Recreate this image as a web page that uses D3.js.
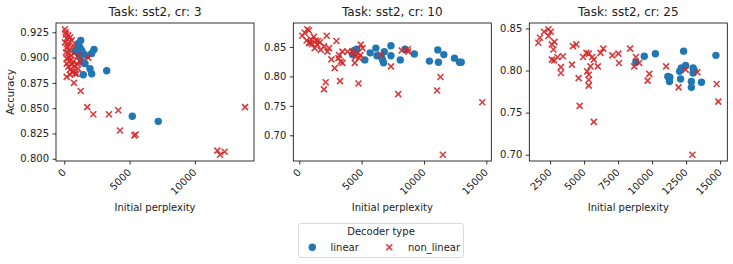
<!DOCTYPE html>
<html>
<head>
<meta charset="utf-8">
<script src="https://cdn.jsdelivr.net/npm/d3@7"></script>
<style>
  body { margin: 0; background: #fff; }
  text { font-family: "DejaVu Sans", sans-serif; fill: #222; }
</style>
</head>
<body>
<div id="chart"></div>
<script>
// data, [perplexity, accuracy]
var titles = ['Task: sst2, cr: 3', 'Task: sst2, cr: 10', 'Task: sst2, cr: 25'];

var linear_3 = [[1256,0.917],[1072,0.914],[1202,0.910],[950,0.909],[1332,0.907],[1072,0.904],[1455,0.904],
  [1202,0.901],[1715,0.902],[2098,0.904],[2274,0.908],[1968,0.889],[2098,0.884],[1455,0.883],[3247,0.887],
  [1332,0.896],[1585,0.894],[820,0.906],[5207,0.842],[7198,0.837]];
var nonlinear_3 = [[54,0.928],[130,0.923],[306,0.922],[437,0.920],[184,0.919],[54,0.915],[306,0.914],[567,0.917],
  [690,0.912],[184,0.909],[437,0.907],[306,0.904],[567,0.902],[184,0.899],[437,0.897],[690,0.896],[184,0.894],
  [306,0.891],[567,0.893],[820,0.891],[950,0.894],[1072,0.889],[437,0.888],[690,0.886],[184,0.881],[437,0.883],
  [820,0.884],[1202,0.896],[1072,0.902],[1840,0.900],[743,0.875],[1256,0.867],[1760,0.851],[2220,0.844],
  [3420,0.844],[4135,0.848],[4265,0.828],[5360,0.823],[5460,0.824],[13840,0.851],[11720,0.808],[11925,0.804],
  [12283,0.807],[100,0.925],[250,0.911],[600,0.886],[950,0.884],[350,0.900],[120,0.905]];

var linear_10 = [[4397,0.844],[4267,0.837],[5258,0.828],[5685,0.840],[6144,0.848],[6224,0.835],[6812,0.842],
  [6683,0.828],[6763,0.823],[7351,0.852],[7351,0.835],[8100,0.828],[8478,0.846],[9227,0.838],[10435,0.826],
  [11111,0.845],[11594,0.837],[11159,0.824],[12448,0.831],[12850,0.824],[12987,0.824],[6600,0.832],[4600,0.846]];
var nonlinear_10 = [[427,0.874],[644,0.880],[773,0.878],[242,0.869],[588,0.861],[910,0.863],[1176,0.867],
  [1312,0.861],[1047,0.855],[773,0.857],[1450,0.854],[1659,0.858],[1232,0.848],[1715,0.845],[2198,0.869],
  [1980,0.851],[2383,0.848],[2254,0.842],[2979,0.860],[2576,0.829],[3140,0.831],[3325,0.825],[2842,0.814],
  [3462,0.842],[3462,0.823],[3865,0.842],[4267,0.842],[4670,0.840],[4452,0.823],[4936,0.854],[5073,0.848],
  [4799,0.831],[6546,0.837],[7351,0.817],[2118,0.790],[1980,0.778],[3270,0.792],[4750,0.788],[8213,0.844],
  [8696,0.846],[8744,0.842],[11320,0.799],[11055,0.776],[7939,0.770],[11514,0.667],[14678,0.756],
  [4500,0.833],[4900,0.836],[3200,0.836],[1500,0.860],[900,0.857]];

var linear_25 = [[8806,0.810],[9423,0.817],[10239,0.820],[12315,0.823],[14690,0.818],[11157,0.793],[11276,0.787],
  [12145,0.803],[12018,0.799],[12463,0.806],[12091,0.790],[13011,0.803],[13011,0.797],[12885,0.787],
  [12885,0.780],[13627,0.786],[11300,0.792],[13100,0.800]];
var nonlinear_25 = [[1632,0.833],[1758,0.839],[2055,0.846],[2374,0.849],[2552,0.846],[2374,0.841],[2626,0.831],
  [2819,0.834],[2745,0.825],[2626,0.813],[2797,0.812],[3042,0.816],[3442,0.817],[3294,0.804],[3294,0.797],
  [4110,0.807],[4184,0.829],[4429,0.831],[4600,0.791],[4926,0.816],[5171,0.821],[5341,0.820],[5593,0.816],
  [5712,0.813],[5223,0.799],[5341,0.795],[5467,0.805],[5341,0.789],[5341,0.782],[6009,0.805],[6209,0.821],
  [6410,0.826],[7077,0.818],[7523,0.820],[7567,0.809],[8383,0.826],[4674,0.758],[5712,0.739],[12960,0.700],
  [14866,0.763],[8806,0.816],[9053,0.809],[8682,0.805],[9794,0.796],[9670,0.788],[11032,0.805],[11944,0.780],
  [12463,0.801],[13331,0.798],[14740,0.784]];

var xticks = [[0,5000,10000],[0,5000,10000,15000],[2500,5000,7500,10000,12500,15000]];
var yticks = [[0.800,0.825,0.850,0.875,0.900,0.925],[0.70,0.75,0.80,0.85],[0.70,0.75,0.80,0.85]];
var yfmt = ['.3f','.2f','.2f'];

var panels = [[linear_3, nonlinear_3],[linear_10, nonlinear_10],[linear_25, nonlinear_25]];

var width = 733, height = 264;
var left = [56, 293.3, 529.3], pw = 198, plotTop = 23, plotBottom = 161;
var blue = '#1f77b4', red = '#d62728';

var svg = d3.select('#chart').append('svg')
    .attr('width', width)
    .attr('height', height);

function padded(vals) {
  var e = d3.extent(vals), m = (e[1] - e[0]) * 0.05;
  return [e[0] - m, e[1] + m];
}

function panel(i) {
  var lin = panels[i][0], non = panels[i][1];
  var all = lin.concat(non);
  var x = d3.scaleLinear().domain(padded(all.map(d => d[0]))).range([left[i], left[i] + pw]);
  var y = d3.scaleLinear().domain(padded(all.map(d => d[1]))).range([plotBottom, plotTop]);

  var g = svg.append('g');

  // linear first, crosses on top
  g.selectAll('.lin')
    .data(lin)
    .enter().append('circle')
    .attr('cx', d => x(d[0]))
    .attr('cy', d => y(d[1]))
    .attr('r', 3.7)
    .style('fill', blue);

  g.selectAll('.non')
    .data(non)
    .enter().append('path')
    .attr('transform', d => 'translate(' + x(d[0]) + ',' + y(d[1]) + ')')
    .attr('d', 'M-3,-3L3,3M-3,3L3,-3')
    .style('stroke', red)
    .style('stroke-width', 1.6)
    .style('opacity', 0.9);

  // frame
  g.append('rect')
    .attr('x', left[i]).attr('y', plotTop)
    .attr('width', pw).attr('height', plotBottom - plotTop)
    .style('fill', 'none').style('stroke', '#000').style('stroke-width', 0.8);

  var xa = g.append('g').attr('transform', 'translate(0,' + plotBottom + ')')
    .call(d3.axisBottom(x).tickValues(xticks[i]).tickSize(3.5).tickPadding(3).tickFormat(d3.format('d')));
  xa.select('.domain').remove();
  xa.selectAll('text')
    .style('font-size', '10px')
    .attr('text-anchor', 'end')
    .attr('dy', null).attr('y', null)
    .attr('transform', 'translate(2,12) rotate(-45)');

  var ya = g.append('g').attr('transform', 'translate(' + left[i] + ',0)')
    .call(d3.axisLeft(y).tickValues(yticks[i]).tickSize(3.5).tickPadding(3.5).tickFormat(d3.format(yfmt[i])));
  ya.select('.domain').remove();
  ya.selectAll('text').style('font-size', '10px');
  g.selectAll('.tick line').style('stroke', '#000').style('stroke-width', 0.8);

  g.append('text')
    .attr('x', left[i] + pw / 2).attr('y', 16)
    .attr('text-anchor', 'middle')
    .style('font-size', '12px')
    .text(titles[i]);

  g.append('text')
    .attr('x', left[i] + pw / 2).attr('y', 211)
    .attr('text-anchor', 'middle')
    .style('font-size', '10px')
    .text('Initial perplexity');
}

[0, 1, 2].forEach(panel);

svg.append('text')
  .attr('transform', 'translate(14,' + (plotTop + plotBottom) / 2 + ') rotate(-90)')
  .attr('text-anchor', 'middle')
  .style('font-size', '10px')
  .text('Accuracy');

// legend
var lg = svg.append('g');
lg.append('rect')
  .attr('x', 298.5).attr('y', 223.5).attr('width', 165).attr('height', 34).attr('rx', 2.5)
  .style('fill', '#fff').style('stroke', '#d0d0d0').style('stroke-width', 0.8);
lg.append('text').attr('x', 381).attr('y', 235).attr('text-anchor', 'middle')
  .style('font-size', '10px').text('Decoder type');
lg.append('circle').attr('cx', 312.3).attr('cy', 247.3).attr('r', 3.7).style('fill', blue);
lg.append('text').attr('x', 330.5).attr('y', 251).style('font-size', '10px').text('linear');
lg.append('path').attr('transform', 'translate(389.3,247.3)')
  .attr('d', 'M-3,-3L3,3M-3,3L3,-3')
  .style('stroke', red).style('stroke-width', 1.6).style('opacity', 0.9);
lg.append('text').attr('x', 408).attr('y', 251).style('font-size', '10px').text('non_linear');
</script>
</body>
</html>
